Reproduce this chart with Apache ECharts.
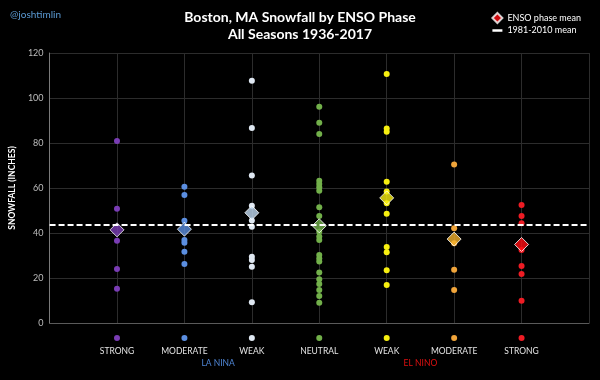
<!DOCTYPE html>
<html>
<head>
<meta charset="utf-8">
<script src="https://cdn.jsdelivr.net/npm/echarts@6/dist/echarts.min.js"></script>
<style>
  html, body { margin: 0; padding: 0; background: #000; }
  #chart { width: 600px; height: 380px; }
</style>
</head>
<body>
<div id="chart"></div>
<script>
// ---- data ----
const categories = ['STRONG', 'MODERATE', 'WEAK', 'NEUTRAL', 'WEAK', 'MODERATE', 'STRONG'];
const groupLabels = ['LA NINA', 'EL NINO'];
const laNinaStrong = [80.9, 50.8, 36.6, 24.0, 15.2];
const laNinaModerate = [60.6, 56.9, 45.5, 36.9, 35.7, 31.7, 26.2];
const laNinaWeak = [107.7, 86.7, 65.6, 52.1, 45.6, 42.8, 29.5, 28.0, 25.0, 9.2];
const neutral = [96.1, 89.0, 84.0, 63.2, 61.8, 60.3, 58.8, 51.4, 47.6, 40.6, 38.4, 36.9, 30.2, 28.7, 27.3, 22.4, 19.4, 17.3, 14.7, 12.0, 9.0];
const elNinoWeak = [110.7, 86.5, 85.0, 62.8, 58.4, 53.2, 48.6, 33.8, 31.4, 23.4, 16.9];
const elNinoModerate = [70.5, 42.1, 35.4, 23.7, 14.7];
const elNinoStrong = [52.4, 47.6, 44.3, 32.4, 25.3, 21.8, 9.9];
const phaseMeans = [41.4, 41.7, 49.0, 43.2, 55.6, 37.3, 34.9];
const normalMean = 43.8;
const yTicks = [0, 20, 40, 60, 80, 100, 120];

// ---- styling ----
const dotColors = ['#7a3db5', '#5b8ee0', '#dfe8f2', '#72b04a', '#f7ef10', '#f0a43a', '#ee1c24'];
const meanColors = ['#7a3db5', '#5b8ee0', '#c2dbf2', '#72b04a', '#f7ef10', '#f2b02c', '#ff0d12'];
const groups = [laNinaStrong, laNinaModerate, laNinaWeak, neutral, elNinoWeak, elNinoModerate, elNinoStrong];

const rich = { t: { color: '#e4e4e4', fontSize: 8.5, fontFamily: 'Lato', lineHeight: 16 } };
dotColors.forEach((c, i) => {
  rich['d' + i] = { width: 6, height: 6, borderRadius: 3, backgroundColor: c, lineHeight: 10 };
});

const chart = echarts.init(document.getElementById('chart'), null, { renderer: 'canvas' });

const series = groups.map((vals, i) => ({
  type: 'scatter',
  name: 'phase' + i,
  symbol: 'circle',
  symbolSize: 6,
  itemStyle: { color: dotColors[i], opacity: 1 },
  data: vals.map(v => [i + 1, v]),
  z: 2
}));

series.push({
  type: 'scatter',
  name: 'ENSO phase mean',
  symbol: 'diamond',
  symbolSize: 14,
  itemStyle: { color: '#ff0d12', borderColor: '#ffffff', borderWidth: 1 },
  data: phaseMeans.map((m, i) => ({ value: [i + 1, m], itemStyle: { color: meanColors[i] } })),
  z: 4
});

series.push({
  type: 'line',
  name: '1981-2010 mean',
  data: [],
  itemStyle: { color: '#ffffff' },
  markLine: {
    silent: true,
    symbol: 'none',
    label: { show: false },
    lineStyle: { color: '#ffffff', type: [6, 3], width: 2 },
    data: [{ yAxis: normalMean }]
  },
  z: 3
});

chart.setOption({
  backgroundColor: '#000000',
  animation: false,
  textStyle: { fontFamily: 'Lato' },
  title: [
    {
      text: 'Boston, MA Snowfall by ENSO Phase\nAll Seasons 1936-2017',
      left: 'center', top: 4,
      textStyle: { color: '#ffffff', fontSize: 14, fontWeight: 'bold', lineHeight: 17, fontFamily: 'Lato' }
    },
    {
      text: '@joshtimlin',
      left: 5, top: 5,
      textStyle: { color: '#5b9bd5', fontSize: 10, fontWeight: 'normal', fontFamily: 'Lato' }
    }
  ],
  legend: {
    orient: 'vertical',
    right: 14, top: 7,
    itemWidth: 10, itemHeight: 10, itemGap: 2,
    textStyle: { color: '#ffffff', fontSize: 9, fontFamily: 'Lato' },
    data: [
      { name: 'ENSO phase mean', icon: 'diamond' },
      { name: '1981-2010 mean', icon: 'path://M0,0h10v2.5h-10z' }
    ]
  },
  grid: { left: 48, right: 11, top: 53, bottom: 57 },
  xAxis: [
    {
      type: 'value', min: 0, max: 8, interval: 1,
      axisLine: { show: true, lineStyle: { color: '#5a5a5a' } },
      axisTick: { show: false },
      splitLine: { show: true, lineStyle: { color: '#2c2c2c' } },
      axisLabel: {
        margin: 10,
        formatter: v => (v >= 1 && v <= 7) ? '{d' + (v - 1) + '|}\n{t|' + categories[v - 1] + '}' : '',
        rich: rich
      }
    },
    {
      type: 'value', min: 0, max: 8, interval: 0.5, position: 'bottom',
      axisLine: { show: false }, axisTick: { show: false }, splitLine: { show: false },
      axisLabel: {
        margin: 36,
        formatter: v => v === 2.5 ? '{a|' + groupLabels[0] + '}' : (v === 5.5 ? '{b|' + groupLabels[1] + '}' : ''),
        rich: {
          a: { color: '#4f86d6', fontSize: 8.5, fontFamily: 'Lato' },
          b: { color: '#e01010', fontSize: 8.5, fontFamily: 'Lato' }
        }
      }
    }
  ],
  yAxis: {
    type: 'value', min: yTicks[0], max: yTicks[yTicks.length - 1], interval: 20,
    name: 'SNOWFALL (INCHES)',
    nameLocation: 'middle', nameRotate: 90, nameGap: 13,
    nameTextStyle: { color: '#ffffff', fontSize: 8.5, fontWeight: 'bold', fontFamily: 'Lato' },
    axisLine: { show: true, lineStyle: { color: '#7a7a7a' } },
    axisTick: { show: false },
    splitLine: { show: true, lineStyle: { color: '#2c2c2c' } },
    axisLabel: { color: '#bdbdbd', fontSize: 9, margin: 6, fontFamily: 'Lato' }
  },
  series: series
});
</script>
</body>
</html>
